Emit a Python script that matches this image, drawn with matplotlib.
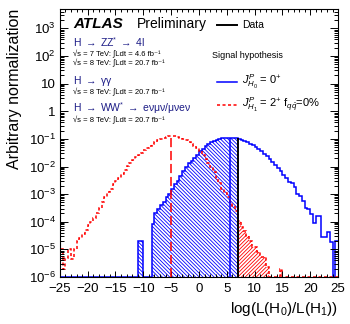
"""
plot.py
Spin-parity test statistic distributions for J^P = 0+ vs 2+ (ATLAS style).
"""

import numpy as np
import matplotlib
matplotlib.use("Agg")
import matplotlib.pyplot as plt
from matplotlib.ticker import FixedLocator, MultipleLocator, LogLocator, NullFormatter

# ---- data (log10 of bin height, None = empty bin) ----
bin_edges = np.arange(-25.0, 25.01, 0.5)

h0_log = [None] * 28 + [
    -4.68, -4.68, None, None, None, -4.08, -3.69, -3.55, -3.40, -3.28,
    -3.12, -3.00, -2.80, -2.65, -2.52, -2.35, -2.15, -2.03, -1.88, -1.80,
    -1.68, -1.58, -1.45, -1.35, -1.25, -1.18, -1.13, -1.08, -1.03, -1.00,
    -0.98, -0.97, -0.96, -0.96, -0.96, -0.97, -1.00, -1.03, -1.07, -1.12,
    -1.17, -1.23, -1.30, -1.37, -1.44, -1.53, -1.62, -1.72, -1.83, -1.95,
    -2.05, -2.15, -2.30, -2.42, -2.55, -2.60, -2.75, -3.00, -3.05, -3.25,
    -3.50, -3.55, -3.72, -4.05, -3.80, -3.80, -4.56, -4.56, -4.38, -4.74,
    None, -4.68,
]

h1_log = [
    -4.97, -5.70, -5.30, -4.97, -5.35, -4.97, -4.68, -4.60, -4.45, -4.30,
    -4.10, -4.00, -3.85, -3.68, -3.50, -3.30, -3.10, -2.93, -2.80, -2.65,
    -2.52, -2.42, -2.28, -2.13, -1.98, -1.87, -1.77, -1.67, -1.58, -1.50,
    -1.42, -1.33, -1.25, -1.18, -1.11, -1.05, -1.00, -0.95, -0.92, -0.89,
    -0.88, -0.89, -0.92, -0.95, -0.99, -1.04, -1.10, -1.17, -1.25, -1.34,
    -1.45, -1.58, -1.72, -1.87, -2.03, -2.20, -2.40, -2.60, -2.80, -2.97,
    -3.12, -3.28, -3.42, -3.60, -3.96, -4.20, -4.35, -4.50, -4.68, -4.92,
    -4.92, -5.10, -5.28, -5.28, -5.65, None, None, None, None, -5.70,
] + [None] * 20

data_value = 7.0
h0_median = 5.5
h1_median = -5.0

y_ticks = [1e-6, 1e-5, 1e-4, 1e-3, 1e-2, 1e-1, 1, 10, 100, 1000]
y_tick_labels = [r"$10^{-6}$", r"$10^{-5}$", r"$10^{-4}$", r"$10^{-3}$",
                 r"$10^{-2}$", r"$10^{-1}$", "1", "10", r"$10^{2}$", r"$10^{3}$"]
x_ticks = [-25, -20, -15, -10, -5, 0, 5, 10, 15, 20, 25]

y_min, y_max = 1e-6, 5e3

# ---- style ----
plt.rcParams["font.family"] = ["Liberation Sans", "DejaVu Sans"]
plt.rcParams["mathtext.fontset"] = "custom"
plt.rcParams["mathtext.rm"] = "Liberation Sans"
plt.rcParams["mathtext.it"] = "Liberation Sans:italic"
plt.rcParams["mathtext.bf"] = "Liberation Sans:bold"
plt.rcParams["hatch.linewidth"] = 0.6

BLUE = "#0000ff"
RED = "#ff0000"
NAVY = "#1c1c86"


def to_values(logs, floor):
    return np.array([floor if v is None else 10.0 ** v for v in logs])


h0 = to_values(h0_log, y_min)
h1 = to_values(h1_log, y_min)


def height_at(vals, x):
    i = int(np.searchsorted(bin_edges, x, side="right")) - 1
    i = min(max(i, 0), len(vals) - 1)
    return vals[i]


fig = plt.figure(figsize=(3.5, 3.24), dpi=100)
ax = fig.add_axes([0.171, 0.145, 0.795, 0.827])
ax.set_yscale("log")

# hatched regions: H0 below data, H1 above data
cut = int(np.searchsorted(bin_edges, data_value))
ax.stairs(h0[:cut], bin_edges[:cut + 1], fill=True, baseline=y_min,
          hatch="\\" * 9, facecolor="none", edgecolor=BLUE, linewidth=0)
ax.stairs(h1[cut:], bin_edges[cut:], fill=True, baseline=y_min,
          hatch="/" * 9, facecolor="none", edgecolor=RED, linewidth=0)

# histogram outlines
ax.stairs(h0, bin_edges, baseline=None, color=BLUE, linewidth=1.1)
ax.stairs(h1, bin_edges, baseline=None, color=RED, linewidth=1.1,
          linestyle=(0, (2.0, 1.6)))

# medians and observed value
ax.vlines(h1_median, y_min, height_at(h1, h1_median), color=RED,
          linewidth=1.1, linestyles=[(0, (6, 2.5))])
ax.vlines(h0_median, y_min, height_at(h0, h0_median), color=BLUE, linewidth=1.1)
ax.vlines(data_value, y_min, max(height_at(h0, data_value), height_at(h0, data_value - 0.5)),
          color="black", linewidth=1.4)

ax.set_xlim(-25, 25)
ax.set_ylim(y_min, y_max)

ax.xaxis.set_major_locator(FixedLocator(x_ticks))
ax.xaxis.set_minor_locator(MultipleLocator(1))
ax.yaxis.set_major_locator(FixedLocator(y_ticks))
ax.set_yticklabels(y_tick_labels)
ax.yaxis.set_minor_locator(LogLocator(base=10, subs=np.arange(2, 10), numticks=20))
ax.yaxis.set_minor_formatter(NullFormatter())

ax.tick_params(which="both", direction="in", top=True, right=True, width=0.7)
ax.tick_params(axis="y", which="major", length=6, labelsize=9.5, pad=3)
ax.tick_params(axis="y", which="minor", length=3)
ax.tick_params(axis="x", which="major", length=4.5, labelsize=9.5, pad=4)
ax.tick_params(axis="x", which="minor", length=2.2)
for s in ax.spines.values():
    s.set_linewidth(0.8)

ax.set_xlabel(r"log(L(H$_{0}$)/L(H$_{1}$))", fontsize=11, loc="right", labelpad=4)
ax.set_ylabel("Arbitrary normalization", fontsize=11.5, loc="top", labelpad=5)

# ---- labels and legend ----
t = ax.transAxes
ax.text(0.047, 0.928, "ATLAS", transform=t, fontsize=11, fontweight="bold",
        fontstyle="italic", va="baseline")
ax.text(0.277, 0.928, "Preliminary", transform=t, fontsize=10, va="baseline")

ax.text(0.047, 0.877, r"H $\rightarrow$ ZZ$^{*}$ $\rightarrow$ 4l", transform=t,
        fontsize=7.5, color=NAVY, va="center")
ax.text(0.047, 0.832, "√s = 7 TeV: ∫Ldt = 4.6 fb⁻¹", transform=t, fontsize=5.5,
        va="center")
ax.text(0.047, 0.800, "√s = 8 TeV: ∫Ldt = 20.7 fb⁻¹", transform=t, fontsize=5.5,
        va="center")
ax.text(0.047, 0.730, r"H $\rightarrow$ γγ", transform=t, fontsize=7.5,
        color=NAVY, va="center")
ax.text(0.047, 0.690, "√s = 8 TeV: ∫Ldt = 20.7 fb⁻¹", transform=t, fontsize=5.5,
        va="center")
ax.text(0.047, 0.630, r"H $\rightarrow$ WW$^{*}$ $\rightarrow$ eνμν/μνeν",
        transform=t, fontsize=7.5, color=NAVY, va="center")
ax.text(0.047, 0.585, "√s = 8 TeV: ∫Ldt = 20.7 fb⁻¹", transform=t, fontsize=5.5,
        va="center")

ax.plot([0.565, 0.637], [0.940, 0.940], transform=t, color="black", linewidth=1.4)
ax.text(0.655, 0.940, "Data", transform=t, fontsize=7.5, va="center")
ax.text(0.547, 0.828, "Signal hypothesis", transform=t, fontsize=6.5, va="center")
ax.plot([0.565, 0.637], [0.728, 0.728], transform=t, color=BLUE, linewidth=1.1)
ax.text(0.655, 0.728, r"$J^{P}_{H_{0}}$ = 0$^{+}$", transform=t, fontsize=8,
        va="center")
ax.plot([0.565, 0.637], [0.642, 0.642], transform=t, color=RED, linewidth=1.1,
        linestyle=(0, (2.0, 1.6)))
ax.text(0.655, 0.642, r"$J^{P}_{H_{1}}$ = 2$^{+}$ f$_{q\bar{q}}$=0%", transform=t,
        fontsize=8, va="center")

fig.savefig("out.png", dpi=100)
